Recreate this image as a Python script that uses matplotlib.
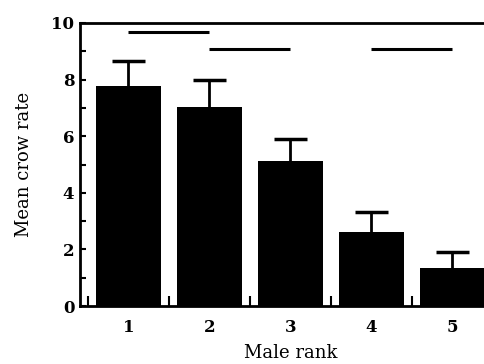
import matplotlib.pyplot as plt
from matplotlib.ticker import MultipleLocator, FixedLocator

ranks = [1, 2, 3, 4, 5]
mean_rate = [7.78, 7.04, 5.13, 2.60, 1.35]
se_upper = [0.88, 0.93, 0.76, 0.71, 0.55]
# non-significant groups drawn as horizontal lines (from rank, to rank, height)
groups = [(1, 2, 9.68), (2, 3, 9.08), (4, 5, 9.08)]

plt.rcParams['font.family'] = ['DejaVu Serif']

fig = plt.figure(figsize=(4.84, 3.64), dpi=100)
ax = fig.add_axes([0.165, 0.159, 0.87, 0.778])

ax.bar(ranks, mean_rate, width=0.8, color='black', zorder=2)

# upper-only error bars
tops = [m + s for m, s in zip(mean_rate, se_upper)]
ax.vlines(ranks, mean_rate, tops, color='black', lw=2, zorder=1)
ax.hlines(tops, [r - 0.2 for r in ranks], [r + 0.2 for r in ranks],
          color='black', lw=2.5, zorder=1)

for a, b, h in groups:
    ax.plot([a, b], [h, h], color='black', lw=2.2, solid_capstyle='butt')

ax.set_xlim(0.4, 5.6)
ax.set_ylim(0, 10)

ax.yaxis.set_major_locator(MultipleLocator(2))
ax.yaxis.set_minor_locator(MultipleLocator(1))
ax.xaxis.set_major_locator(FixedLocator(ranks))
ax.xaxis.set_minor_locator(FixedLocator([0.5, 1.5, 2.5, 3.5, 4.5]))

ax.tick_params(axis='y', which='both', direction='in', length=4, width=1.5,
               labelsize=12, pad=4)
ax.tick_params(axis='x', which='major', length=0, labelsize=12, pad=9)
ax.tick_params(axis='x', which='minor', direction='in', length=7, width=1.5)
for lab in ax.get_xticklabels() + ax.get_yticklabels():
    lab.set_fontweight('bold')

for side in ['left', 'bottom', 'top']:
    ax.spines[side].set_linewidth(2)
ax.spines['right'].set_visible(False)

ax.set_ylabel('Mean crow rate', fontsize=13, labelpad=13)
ax.set_xlabel('Male rank', fontsize=13, labelpad=6)

fig.savefig('out.png', dpi=100)
